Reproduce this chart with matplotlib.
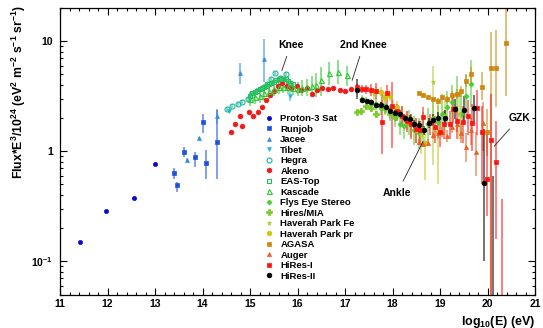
import numpy as np
import matplotlib
matplotlib.use("Agg")
import matplotlib.pyplot as plt
from matplotlib.ticker import MultipleLocator, LogLocator, FuncFormatter, NullFormatter
from matplotlib.font_manager import FontProperties

plt.rcParams['font.family'] = ['Liberation Sans', 'DejaVu Sans']
plt.rcParams['font.weight'] = 'bold'
plt.rcParams['mathtext.fontset'] = 'custom'
plt.rcParams['mathtext.rm'] = 'Liberation Sans:bold'
plt.rcParams['mathtext.bf'] = 'Liberation Sans:bold'
plt.rcParams['mathtext.it'] = 'Liberation Sans:bold'
plt.rcParams['mathtext.default'] = 'bf'

# ---------------- data (log10(E/eV), flux*E^3/1e24, error range) ----------------
proton_x = [11.42, 11.97, 12.55, 13.00]
proton_y = [0.149, 0.289, 0.377, 0.767]

runjob_x = [13.40, 13.46, 13.60, 13.84, 14.00, 14.08, 14.30]
runjob_y = [0.63, 0.49, 0.99, 0.88, 1.83, 0.79, 1.22]
runjob_lo = [0.565, 0.43, 0.89, 0.72, 1.45, 0.565, 0.565]
runjob_hi = [0.70, 0.53, 1.10, 0.99, 2.20, 1.02, 2.36]

jacee_x = [13.68, 13.93, 14.31, 14.78, 15.29]
jacee_y = [0.83, 1.31, 2.07, 5.10, 6.90]
jacee_lo = [0.80, 1.26, 1.75, 4.10, 4.26]
jacee_hi = [0.86, 1.36, 2.40, 6.30, 10.5]

tibet_x = [14.55, 15.85]
tibet_y = [2.30, 3.20]
tibet_lo = [2.22, 2.85]
tibet_hi = [2.38, 3.60]

hegra_x = [14.52, 14.63, 14.74, 14.83, 14.95, 15.05, 15.15, 15.25, 15.35, 15.45, 15.53, 15.64, 15.75]
hegra_y = [2.42, 2.58, 2.70, 2.80, 3.00, 3.25, 3.50, 3.75, 4.10, 4.50, 5.14, 4.60, 5.00]
hegra_lo = [2.34, 2.49, 2.60, 2.70, 2.88, 3.12, 3.36, 3.60, 3.94, 4.32, 4.93, 4.42, 4.80]
hegra_hi = [2.50, 2.67, 2.80, 2.90, 3.12, 3.38, 3.64, 3.90, 4.26, 4.68, 5.35, 4.78, 5.20]

akeno_x = [14.59, 14.69, 14.78, 14.84, 14.98, 15.07, 15.16, 15.25, 15.34, 15.43, 15.51, 15.58, 15.67,
           15.78, 15.87, 15.98, 16.08, 16.20, 16.30, 16.41, 16.52, 16.65, 16.75, 16.90, 17.00, 17.12]
akeno_y = [1.51, 1.76, 2.09, 1.71, 2.26, 2.09, 2.26, 2.54, 2.90, 3.27, 3.53, 3.89, 4.14,
           3.89, 3.78, 3.89, 3.63, 3.75, 3.31, 3.63, 3.75, 3.70, 3.78, 3.58, 3.53, 3.68]

eastop_x = [15.00, 15.05, 15.10, 15.15, 15.20, 15.25, 15.30, 15.35, 15.40, 15.45,
            15.50, 15.55, 15.60, 15.65, 15.70, 15.75, 15.80, 15.85, 15.90]
eastop_y = [3.20, 3.35, 3.45, 3.55, 3.65, 3.75, 3.85, 3.95, 4.05, 4.15,
            4.30, 4.40, 4.50, 4.55, 4.55, 4.50, 4.35, 4.20, 4.05]
eastop_lo = [3.04, 3.18, 3.28, 3.37, 3.47, 3.56, 3.66, 3.75, 3.85, 3.94,
             4.09, 4.18, 4.28, 4.32, 4.32, 4.28, 4.13, 3.99, 3.85]
eastop_hi = [3.36, 3.52, 3.62, 3.73, 3.83, 3.94, 4.04, 4.15, 4.25, 4.36,
             4.52, 4.62, 4.73, 4.78, 4.78, 4.73, 4.57, 4.41, 4.25]

kascade_x = [15.00, 15.10, 15.20, 15.30, 15.40, 15.50, 15.60, 15.70, 15.80, 15.90,
             16.00, 16.10, 16.20, 16.30, 16.40, 16.50, 16.66, 16.86, 17.05]
kascade_y = [3.00, 3.10, 3.20, 3.35, 3.50, 3.65, 3.80, 3.85, 3.80, 3.75,
             3.70, 3.75, 3.80, 3.90, 4.00, 4.40, 5.10, 5.30, 4.90]
kascade_lo = [2.60, 2.70, 2.75, 2.90, 3.00, 3.15, 3.30, 3.35, 3.30, 3.25,
              3.15, 3.15, 3.15, 3.15, 3.10, 3.20, 4.00, 4.10, 3.90]
kascade_hi = [3.45, 3.55, 3.70, 3.85, 4.05, 4.20, 4.35, 4.40, 4.35, 4.30,
              4.30, 4.40, 4.55, 4.80, 5.10, 5.80, 6.40, 6.80, 6.00]

flys_x = [17.35, 17.45, 17.55, 17.65, 17.75, 17.85, 17.95, 18.05, 18.15, 18.25, 18.35, 18.45,
          18.55, 18.65, 18.75, 18.85, 18.95, 19.05, 19.15, 19.25, 19.35, 19.45, 19.55, 19.65]
flys_y = [3.00, 2.85, 2.70, 2.70, 2.45, 2.55, 2.25, 2.00, 1.75, 1.70, 1.80, 1.55,
          1.45, 1.60, 1.75, 2.00, 1.85, 2.20, 2.50, 2.80, 3.30, 2.20, 3.20, 4.10]
flys_lo = [2.75, 2.60, 2.45, 2.40, 2.15, 2.20, 1.90, 1.65, 1.40, 1.30, 1.40, 1.15,
           1.05, 1.15, 1.25, 1.45, 1.30, 1.55, 1.75, 1.90, 2.20, 1.30, 2.00, 2.50]
flys_hi = [3.25, 3.10, 3.00, 3.05, 2.80, 2.95, 2.65, 2.45, 2.20, 2.20, 2.35, 2.10,
           2.00, 2.25, 2.45, 2.80, 2.65, 3.10, 3.55, 4.00, 4.80, 3.60, 5.00, 6.80]

mia_x = [17.25, 17.33, 17.45, 17.55, 17.65, 17.75, 17.85, 17.95, 18.05]
mia_y = [2.28, 2.32, 2.55, 2.45, 2.20, 2.60, 2.40, 2.20, 2.10]
mia_lo = [2.15, 2.18, 2.35, 2.25, 2.00, 2.35, 2.15, 1.95, 1.85]
mia_hi = [2.42, 2.46, 2.75, 2.65, 2.40, 2.85, 2.65, 2.45, 2.35]

hpfe_x = [17.60, 17.80, 18.00, 18.20, 18.40, 18.60, 18.86, 19.10, 19.40]
hpfe_y = [3.30, 3.10, 2.50, 2.10, 1.75, 1.40, 4.30, 2.10, 2.20]
hpfe_lo = [2.90, 2.70, 2.10, 1.70, 1.35, 0.95, 0.75, 1.40, 1.30]
hpfe_hi = [3.70, 3.50, 2.95, 2.55, 2.20, 1.90, 6.00, 3.00, 3.40]

hppr_x = [17.55, 17.65, 17.75, 17.85, 17.95, 18.10, 18.30, 18.50, 18.68, 18.95]
hppr_y = [3.58, 3.55, 3.46, 3.11, 3.20, 2.50, 1.90, 1.60, 1.20, 1.50]
hppr_lo = [3.30, 3.25, 3.15, 2.80, 2.85, 2.15, 1.55, 1.20, 0.55, 0.50]
hppr_hi = [3.85, 3.85, 3.80, 3.45, 3.55, 2.85, 2.30, 2.00, 1.50, 2.90]

agasa_x = [18.55, 18.65, 18.75, 18.85, 18.95, 19.05, 19.15, 19.25, 19.35, 19.45, 19.55, 19.65,
           19.88, 19.98, 20.08, 20.18, 20.38]
agasa_y = [3.41, 3.27, 3.11, 2.96, 2.84, 3.11, 2.96, 3.27, 3.30, 3.50, 4.32, 4.98,
           3.84, 1.50, 5.70, 5.70, 9.60]
agasa_lo = [3.30, 3.15, 2.98, 2.82, 2.68, 2.92, 2.75, 3.00, 3.00, 3.10, 3.80, 4.30,
            2.90, 0.90, 0.01, 2.50, 3.20]
agasa_hi = [3.52, 3.40, 3.25, 3.12, 3.02, 3.32, 3.20, 3.55, 3.65, 3.95, 4.90, 5.80,
            5.30, 2.40, 12.0, 12.5, 40.0]

auger_x = [18.55, 18.65, 18.75, 18.85, 18.95, 19.05, 19.15, 19.25, 19.35, 19.45, 19.55, 19.65, 19.75, 19.90]
auger_y = [1.22, 1.17, 1.20, 1.40, 1.45, 1.50, 1.38, 1.66, 1.75, 1.47, 1.10, 1.55, 0.99, 1.80]
auger_lo = [1.15, 1.10, 1.12, 1.30, 1.32, 1.35, 1.22, 1.45, 1.50, 1.20, 0.80, 1.15, 0.60, 1.00]
auger_hi = [1.29, 1.24, 1.28, 1.50, 1.58, 1.65, 1.55, 1.88, 2.00, 1.80, 1.45, 2.00, 1.50, 2.80]

hires1_x = [17.25, 17.35, 17.45, 17.55, 17.65, 17.77, 17.88, 17.98, 18.10, 18.20, 18.30, 18.40,
            18.50, 18.58, 18.65, 18.79, 18.90, 19.00, 19.09, 19.21, 19.28, 19.36, 19.48, 19.58,
            19.68, 19.78, 19.88, 19.98, 20.08, 20.18, 20.30]
hires1_y = [3.80, 3.70, 3.65, 3.60, 3.50, 1.85, 3.40, 2.60, 2.30, 2.10, 1.90, 1.75,
            1.60, 1.55, 2.05, 1.79, 1.65, 1.50, 1.78, 1.78, 2.44, 1.90, 1.85, 2.10,
            1.80, 2.45, 1.50, 0.56, 1.26, 0.80, 0.02]
hires1_lo = [3.50, 3.40, 3.30, 3.20, 3.00, 0.95, 2.40, 1.06, 1.90, 1.70, 1.50, 1.30,
             1.20, 1.20, 1.60, 1.40, 1.20, 1.10, 1.30, 1.30, 1.80, 1.30, 1.20, 1.40,
             1.00, 1.40, 0.50, 0.26, 0.01, 0.16, 0.001]
hires1_hi = [4.10, 4.00, 4.00, 4.10, 4.20, 3.60, 4.00, 4.30, 2.70, 2.60, 2.30, 2.20,
             2.00, 1.90, 2.50, 2.20, 2.10, 1.90, 2.30, 2.30, 3.10, 2.60, 2.60, 2.90,
             2.70, 3.60, 2.60, 1.50, 3.30, 1.90, 0.37]

hires2_x = [17.25, 17.36, 17.46, 17.55, 17.66, 17.76, 17.87, 17.95, 18.06, 18.16, 18.26, 18.36,
            18.46, 18.55, 18.66, 18.76, 18.86, 18.95, 19.11, 19.32, 19.51, 19.71, 19.92, 20.12]
hires2_y = [3.63, 2.94, 2.84, 2.80, 2.65, 2.62, 2.53, 2.31, 2.24, 2.20, 2.00, 1.98,
            1.78, 1.72, 1.55, 1.81, 1.94, 2.02, 2.02, 2.44, 2.39, 2.47, 0.51, 0.02]
hires2_lo = [3.00, 2.80, 2.70, 2.66, 2.50, 2.47, 2.38, 2.17, 2.10, 2.05, 1.86, 1.83,
             1.63, 1.56, 1.40, 1.62, 1.72, 1.78, 1.72, 1.95, 1.75, 1.85, 0.10, 0.001]
hires2_hi = [4.50, 3.08, 2.98, 2.94, 2.80, 2.78, 2.68, 2.46, 2.39, 2.36, 2.15, 2.14,
             1.94, 1.89, 1.71, 2.01, 2.17, 2.28, 2.35, 3.00, 3.15, 3.25, 1.60, 0.60]

# (label, x, y, lo, hi, marker, colour, size, filled)
series = [
    ("Proton-3 Sat", proton_x, proton_y, None, None, 'o', '#0a0ad8', 3.0, True),
    ("Runjob", runjob_x, runjob_y, runjob_lo, runjob_hi, 's', '#1f52dc', 3.0, True),
    ("Jacee", jacee_x, jacee_y, jacee_lo, jacee_hi, '^', '#2e8fe0', 2.8, True),
    ("Tibet", tibet_x, tibet_y, tibet_lo, tibet_hi, 'v', '#26b8d8', 2.8, True),
    ("Hegra", hegra_x, hegra_y, hegra_lo, hegra_hi, 'o', '#1fb89c', 3.6, False),
    ("Akeno", akeno_x, akeno_y, None, None, 'o', '#f01818', 3.4, True),
    ("EAS-Top", eastop_x, eastop_y, eastop_lo, eastop_hi, 's', '#27c05c', 3.4, False),
    ("Kascade", kascade_x, kascade_y, kascade_lo, kascade_hi, '^', '#2ec82e', 3.6, False),
    ("Flys Eye Stereo", flys_x, flys_y, flys_lo, flys_hi, 'D', '#4ccc30', 2.6, True),
    ("Hires/MIA", mia_x, mia_y, mia_lo, mia_hi, 'P', '#7acb2a', 4.0, True),
    ("Haverah Park Fe", hpfe_x, hpfe_y, hpfe_lo, hpfe_hi, '*', '#b4cc3c', 3.6, True),
    ("Haverah Park pr", hppr_x, hppr_y, hppr_lo, hppr_hi, 'o', '#cdc414', 3.4, True),
    ("AGASA", agasa_x, agasa_y, agasa_lo, agasa_hi, 's', '#d0870f', 3.4, True),
    ("Auger", auger_x, auger_y, auger_lo, auger_hi, '^', '#e8602a', 3.0, True),
    ("HiRes-I", hires1_x, hires1_y, hires1_lo, hires1_hi, 's', '#ff1414', 3.4, True),
    ("HiRes-II", hires2_x, hires2_y, hires2_lo, hires2_hi, 'o', '#000000', 3.4, True),
]

# ---------------- figure ----------------
fig = plt.figure(figsize=(5.43, 3.28), dpi=100)
L, R, T, B = 60, 535, 8, 294.5
ax = fig.add_axes([L / 543, 1 - B / 328, (R - L) / 543, (B - T) / 328])
ax.set_yscale('log')
ax.set_xlim(11, 21)
ax.set_ylim(0.05, 20)

handles = []
for name, x, y, lo, hi, mk, col, ms, filled in series:
    x = np.asarray(x); y = np.asarray(y)
    if lo is not None:
        lo = np.asarray(lo); hi = np.asarray(hi)
        ax.errorbar(x, y, yerr=[y - lo, hi - y], fmt='none', ecolor=col,
                    alpha=0.55, elinewidth=1.4, capsize=0, zorder=2)
    h, = ax.plot(x, y, linestyle='none', marker=mk, ms=ms, color=col,
                 mfc=col if filled else 'none', mec=col,
                 mew=0.8 if not filled else 0.5, zorder=3, label=name)
    handles.append(h)

# axes styling (ROOT-like)
for sp in ax.spines.values():
    sp.set_linewidth(0.9)
ax.xaxis.set_major_locator(MultipleLocator(1))
ax.xaxis.set_minor_locator(MultipleLocator(0.2))
ax.yaxis.set_major_locator(LogLocator(base=10, numticks=10))
ax.yaxis.set_minor_locator(LogLocator(base=10, subs=np.arange(2, 10), numticks=20))
ax.yaxis.set_minor_formatter(NullFormatter())
ylabels = {0.1: r'$10^{-1}$', 1.0: '1', 10.0: '10'}
ax.yaxis.set_major_formatter(FuncFormatter(lambda v, p: ylabels.get(round(v, 6), '')))
ax.tick_params(which='both', direction='in', top=True, right=True, width=0.8, labelsize=7.5)
ax.tick_params(which='major', length=5)
ax.tick_params(which='minor', length=2.5)
ax.tick_params(axis='x', pad=3.5)
ax.tick_params(axis='y', pad=5)
for lbl in ax.get_xticklabels() + ax.get_yticklabels():
    lbl.set_fontweight('bold')

ax.set_xlabel(r'log$_{10}$(E) (eV)', fontsize=9, fontweight='bold', loc='right', labelpad=3)
ax.set_ylabel(r'Flux*E$^{3}$/10$^{24}$ (eV$^{2}$ m$^{-2}$ s$^{-1}$ sr$^{-1}$)',
              fontsize=8.8, fontweight='bold', loc='top')
ax.yaxis.set_label_coords(-0.068, 1.01)

# annotations
ann_fp = dict(fontsize=7.5, fontweight='bold', ha='center', va='center')
arrow = dict(arrowstyle='-', lw=0.6, color='#222222', shrinkA=3, shrinkB=0)
ax.annotate('Knee', xy=(15.67, 5.4), xytext=(15.86, 9.3), arrowprops=arrow, **ann_fp)
ax.annotate('2nd Knee', xy=(17.15, 4.4), xytext=(17.39, 9.3), arrowprops=arrow, **ann_fp)
ax.annotate('Ankle', xy=(18.64, 1.22), xytext=(18.1, 0.42), arrowprops=arrow, **ann_fp)
ax.annotate('GZK', xy=(20.14, 1.11), xytext=(20.67, 2.0), arrowprops=arrow, **ann_fp)

leg = ax.legend(handles=handles, loc='upper left', bbox_to_anchor=(0.431, 0.630),
                frameon=False, prop=FontProperties(family='Liberation Sans', weight='bold', size=6.8),
                labelspacing=0.16, handlelength=1.0, handletextpad=0.65, borderpad=0,
                borderaxespad=0, numpoints=1)

fig.savefig('out.png', dpi=100, facecolor='white')
